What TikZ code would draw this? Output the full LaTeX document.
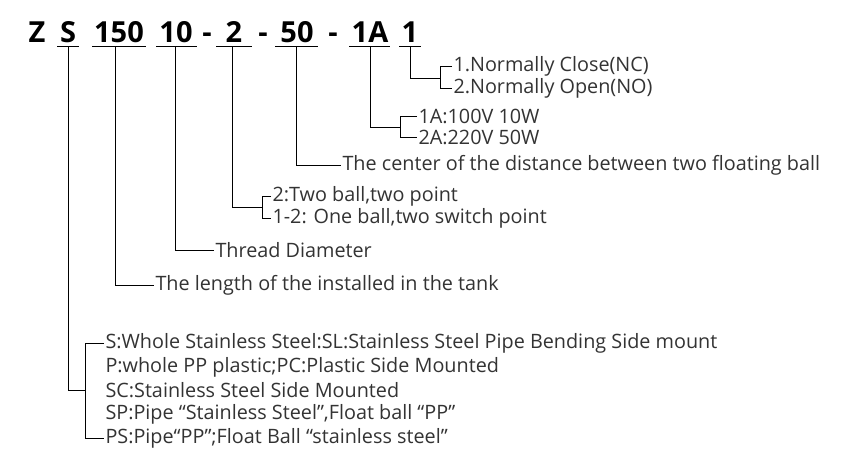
\documentclass[tikz,border=0pt]{standalone}
\usepackage{fontspec}
\setmainfont{Open Sans}
\begin{document}
\begin{tikzpicture}[x=1pt,y=-1pt,line width=1pt,
  lab/.style={anchor=west,inner sep=1pt,font=\fontsize{19.8}{22}\selectfont,text=black!80},
  hd/.style={anchor=base,inner sep=0pt,font=\fontsize{29}{32}\bfseries\selectfont},
  ln/.style={draw=black}]
\useasboundingbox (0,0) rectangle (856,466);
% header
\node[hd] (z) at (37,42) {Z};
\node[hd] (hs) at (68,42) {S};
\node[hd] (h150) at (119,42) {150};
\node[hd] (h10) at (176,42) {10};
\node[hd] (d1) at (207,42) {-};
\node[hd] (h2) at (234,42) {2};
\node[hd] (d2) at (263,42) {-};
\node[hd] (h50) at (297,42) {50};
\node[hd] (d3) at (333,42) {-};
\node[hd] (h1a) at (370,42) {1A};
\node[hd] (h1) at (410,42) {1};
\foreach \a/\b in {57/79,92/146,156/197,216/252,275/318,349/390,399/421}
  \draw (\a,46) -- (\b,46);
% texts
\node[lab] (nc) at (452,66) {1.Normally Close(NC)};
\node[lab] (no) at (452,88) {2.Normally Open(NO)};
\node[lab] (a1) at (417,116) {1A:100V 10W};
\node[lab] (a2) at (417,137) {2A:220V 50W};
\node[lab] (cen) at (341,165) {The center of the distance between two floating ball};
\node[lab] (tb) at (271,196) {2:Two ball,two point};
\node[lab] (ob) at (271,218) {1-2: One ball,two switch point};
\node[lab] (td) at (214,250) {Thread Diameter};
\node[lab] (len) at (154,285) {The length of the installed in the tank};
\node[lab] (m1) at (104,343) {S:Whole Stainless Steel:SL:Stainless Steel Pipe Bending Side mount};
\node[lab] (m2) at (104,367) {P:whole PP plastic;PC:Plastic Side Mounted};
\node[lab] (m3) at (104,390) {SC:Stainless Steel Side Mounted};
\node[lab] (m4) at (104,414) {SP:Pipe “Stainless Steel”,Float ball “PP”};
\node[lab] (m5) at (104,438) {PS:Pipe“PP”;Float Ball “stainless steel”};
% connectors
\draw (410,46) -- (410,78) -- (440,78);
\draw (nc.west) -| (440,88) -- (no.west);
\draw (370,46) -- (370,127) -- (400,127);
\draw (a1.west) -| (400,137) -- (a2.west);
\draw (296,46) |- (cen.west);
\draw (232,46) -- (232,207) -- (262,207);
\draw (tb.west) -| (262,218) -- (ob.west);
\draw (175,46) |- (td.west);
\draw (115,46) |- (len.west);
\draw (68,46) -- (68,390) -- (85,390);
\draw (m1.west) -| (85,438) -- (m5.west);
\end{tikzpicture}
\end{document}
